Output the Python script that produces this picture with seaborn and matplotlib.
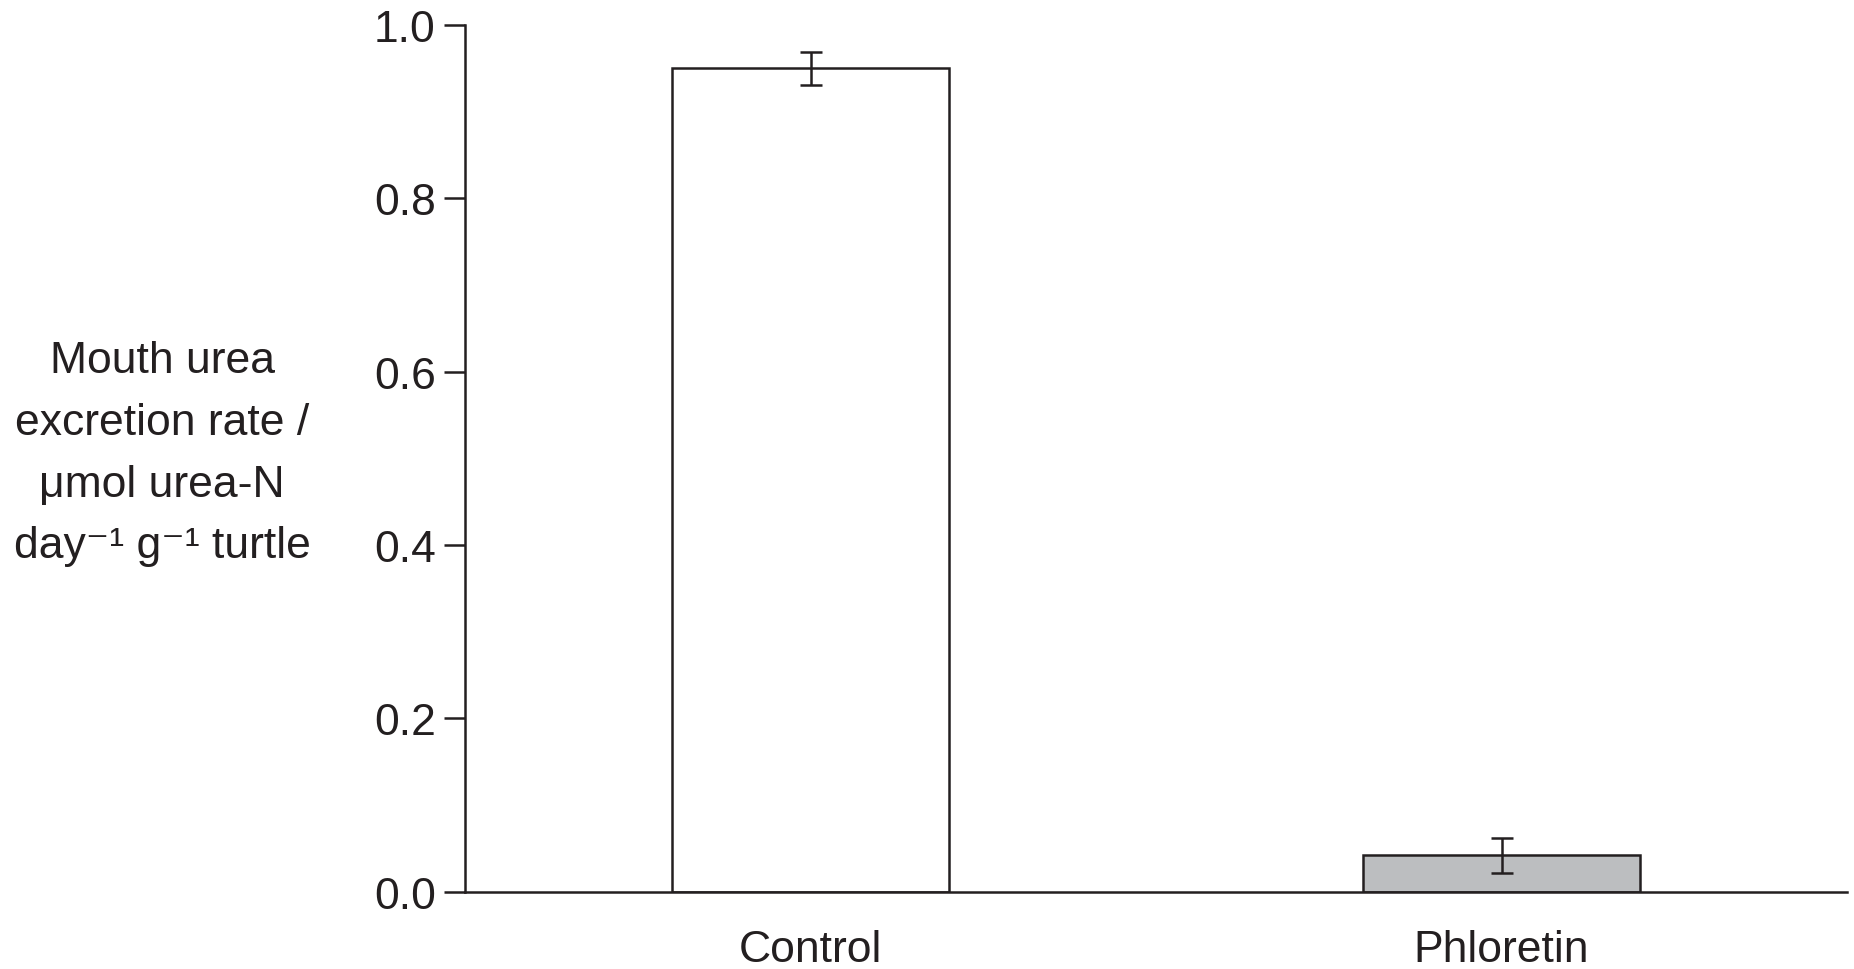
import matplotlib
matplotlib.use("Agg")
import matplotlib.pyplot as plt
import seaborn as sns
import pandas as pd

# Data
categories = ["Control", "Phloretin"]
means = [0.950, 0.042]
errors = [0.019, 0.020]
bar_colors = ["#ffffff", "#bcbec0"]
y_ticks = [0.0, 0.2, 0.4, 0.6, 0.8, 1.0]
y_label = "Mouth urea\nexcretion rate /\nμmol urea-N\nday\u207b\u00b9 g\u207b\u00b9 turtle"

sns.set_theme(style="white")
plt.rcParams["font.family"] = ["Liberation Sans", "DejaVu Sans"]

ink = "#231f20"
df = pd.DataFrame({"group": categories, "value": means})

fig = plt.figure(figsize=(18.54, 9.70), dpi=100)
ax = fig.add_axes([465 / 1854, 1 - 892.7 / 970, (1847 - 465) / 1854, (892.7 - 26) / 970])

sns.barplot(data=df, x="group", y="value", hue="group", palette=bar_colors,
            order=categories, hue_order=categories, legend=False,
            errorbar=None, width=0.4, edgecolor=ink, linewidth=1.8, ax=ax,
            saturation=1)
ax.errorbar(x=range(len(categories)), y=means, yerr=errors, fmt="none",
            ecolor=ink, elinewidth=1.8, capsize=7.6, capthick=1.8, zorder=5)

ax.set_xlim(-0.5, 1.5)
ax.set_ylim(0, 1.0)
ax.set_yticks(y_ticks)
ax.set_yticklabels([f"{t:.1f}" for t in y_ticks])
ax.set_xlabel("")
ax.set_ylabel(y_label, rotation=0, ha="center", va="center",
              fontsize=32, color=ink, linespacing=1.65)
ax.yaxis.set_label_coords((162 - 465) / 1382, 0.506)

for s in ["top", "right"]:
    ax.spines[s].set_visible(False)
for s in ["left", "bottom"]:
    ax.spines[s].set_color(ink)
    ax.spines[s].set_linewidth(1.8)

ax.tick_params(axis="y", direction="out", length=15, width=1.8, color=ink,
               labelsize=32, labelcolor=ink, pad=6, left=True)
ax.tick_params(axis="x", length=0, labelsize=32, labelcolor=ink, pad=27)
ax.grid(False)

fig.savefig("out.png", dpi=100)
